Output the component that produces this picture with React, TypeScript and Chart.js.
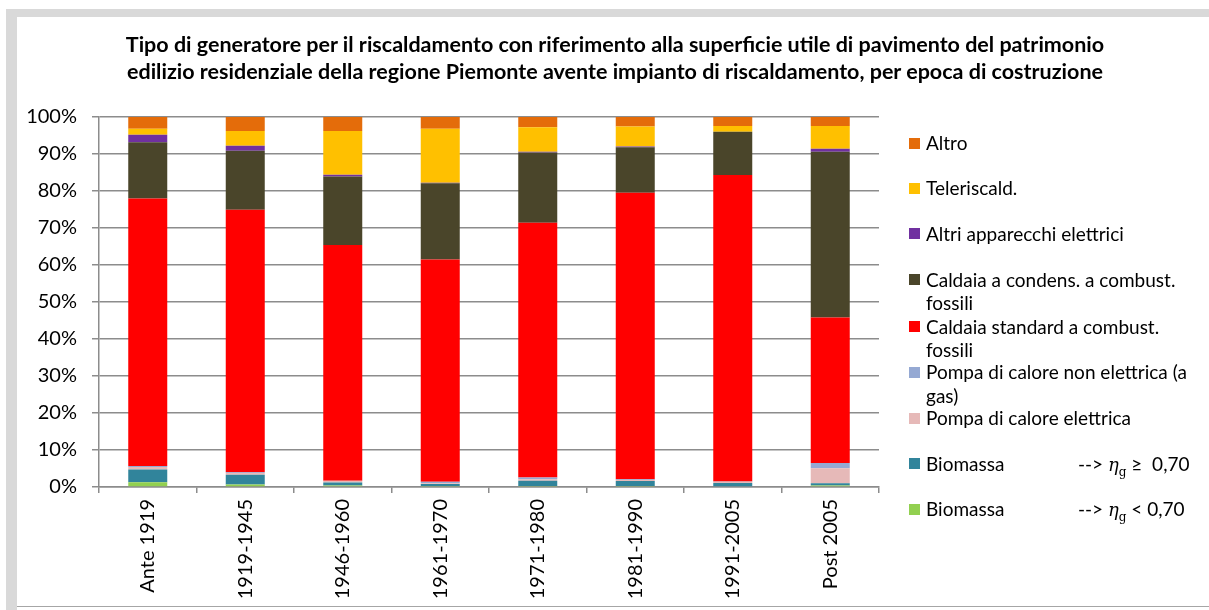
import React, { useEffect, useRef } from "react";
import { Chart, registerables } from "chart.js";

Chart.register(...registerables);

const categories = ["Ante 1919", "1919-1945", "1946-1960", "1961-1970", "1971-1980", "1981-1990", "1991-2005", "Post 2005"];

// values in %, stacked from the bottom up
const biomassaLow = [1.3, 0.7, 0.4, 0.3, 0.3, 0.3, 0.2, 0.4];
const biomassaHigh = [3.4, 2.6, 0.8, 0.5, 1.4, 1.3, 0.9, 0.6];
const pompaElettrica = [0.7, 0.5, 0.5, 0.2, 0.4, 0.3, 0.3, 4.1];
const pompaGas = [0.3, 0.2, 0.0, 0.4, 0.5, 0.2, 0.1, 1.4];
const caldaiaStandard = [72.3, 70.9, 63.7, 60.1, 68.8, 77.4, 82.8, 39.3];
const caldaiaCondens = [15.2, 16.0, 18.5, 20.6, 19.0, 12.3, 11.7, 44.8];
const altriElettrici = [2.0, 1.3, 0.5, 0.1, 0.2, 0.2, 0.0, 0.8];
const teleriscald = [1.6, 4.0, 11.8, 14.6, 6.6, 5.4, 1.6, 6.2];
const altro = [3.2, 3.8, 3.8, 3.2, 2.8, 2.6, 2.4, 2.4];

const yTickLabels = ["0%", "10%", "20%", "30%", "40%", "50%", "60%", "70%", "80%", "90%", "100%"];

const seriesNames = [
  "Biomassa < 0,70",
  "Biomassa ≥ 0,70",
  "Pompa di calore elettrica",
  "Pompa di calore non elettrica (a gas)",
  "Caldaia standard a combust. fossili",
  "Caldaia a condens. a combust. fossili",
  "Altri apparecchi elettrici",
  "Teleriscald.",
  "Altro",
];
const seriesValues = [biomassaLow, biomassaHigh, pompaElettrica, pompaGas, caldaiaStandard, caldaiaCondens, altriElettrici, teleriscald, altro];
const seriesColors = ["#92D050", "#31849B", "#E6B9B8", "#95A9D3", "#FF0000", "#4A452A", "#7030A0", "#FFC000", "#E46C0A"];

const FONT = "Lato, 'Open Sans', sans-serif";

type LegendItem = { lines: string[]; color: string; top: number; eta?: string };
const legendItems: LegendItem[] = [
  { lines: ["Altro"], color: "#E46C0A", top: 143 },
  { lines: ["Teleriscald."], color: "#FFC000", top: 188 },
  { lines: ["Altri apparecchi elettrici"], color: "#7030A0", top: 233.5 },
  { lines: ["Caldaia a condens. a combust.", "fossili"], color: "#4A452A", top: 279.5 },
  { lines: ["Caldaia standard a combust.", "fossili"], color: "#FF0000", top: 326.5 },
  { lines: ["Pompa di calore non elettrica (a", "gas)"], color: "#95A9D3", top: 372 },
  { lines: ["Pompa di calore elettrica"], color: "#E6B9B8", top: 418 },
  { lines: ["Biomassa"], color: "#31849B", top: 463.5, eta: "≥  0,70" },
  { lines: ["Biomassa"], color: "#92D050", top: 509, eta: "< 0,70" },
];

export default function App() {
  const canvasRef = useRef<HTMLCanvasElement | null>(null);

  useEffect(() => {
    if (!canvasRef.current) return;
    const chart = new Chart(canvasRef.current, {
      type: "bar",
      data: {
        labels: categories,
        datasets: seriesValues.map((vals, i) => ({
          label: seriesNames[i],
          data: vals,
          backgroundColor: seriesColors[i],
          borderWidth: 0,
          categoryPercentage: 1,
          barPercentage: 0.4,
        })),
      },
      options: {
        responsive: false,
        animation: false,
        devicePixelRatio: 1,
        layout: { padding: { left: 0, top: 117, right: 330, bottom: 0 } },
        plugins: { legend: { display: false }, title: { display: false }, tooltip: { enabled: false } },
        scales: {
          x: {
            stacked: true,
            grid: { drawOnChartArea: false, drawTicks: true, tickLength: 6, color: "#8c8c8c", lineWidth: 1.5 },
            border: { color: "#8c8c8c", width: 1.5 },
            ticks: {
              minRotation: 90,
              maxRotation: 90,
              padding: 6,
              color: "#000",
              font: { family: FONT, size: 20 },
            },
            afterFit: (s: any) => {
              s.height = 123;
            },
          },
          y: {
            stacked: true,
            min: 0,
            max: 100,
            ticks: {
              stepSize: 10,
              padding: 15,
              color: "#000",
              font: { family: FONT, size: 20 },
              callback: (_v: any, i: number) => yTickLabels[i],
            },
            grid: { color: "#8c8c8c", lineWidth: 1.5, tickLength: 7 },
            border: { color: "#8c8c8c", width: 1.5 },
            afterFit: (s: any) => {
              s.width = 99;
            },
          },
        },
      },
    });
    return () => chart.destroy();
  }, []);

  return (
    <div style={{ position: "fixed", left: 0, top: 0, width: 1209, height: 610, background: "#fff", overflow: "hidden", fontFamily: FONT }}>
      <div style={{ position: "absolute", left: 6, top: 9, width: 1203, height: 601, background: "#d9d9d9" }} />
      <div style={{ position: "absolute", left: 17, top: 17, width: 1192, height: 589, background: "#fff" }} />
      <div style={{ position: "absolute", left: 17, top: 606, width: 1192, height: 1, background: "#a6a6a6" }} />
      <div style={{ position: "absolute", left: 17, top: 607, width: 1192, height: 3, background: "#fff" }} />
      <canvas ref={canvasRef} width={1209} height={610} style={{ position: "absolute", left: 0, top: 0, width: 1209, height: 610 }} />
      <div
        style={{
          position: "absolute",
          left: 17,
          top: 31,
          width: 1196,
          textAlign: "center",
          fontWeight: 700,
          fontSize: 21.5,
          lineHeight: "27px",
          color: "#000",
          whiteSpace: "nowrap",
        }}
      >
        Tipo di generatore per il riscaldamento con riferimento alla superficie utile di pavimento del patrimonio
        <br />
        edilizio residenziale della regione Piemonte avente impianto di riscaldamento, per epoca di costruzione
      </div>
      {legendItems.map((it, k) => (
        <div key={k}>
          <div style={{ position: "absolute", left: 909, top: it.top - 5.5, width: 11, height: 11, background: it.color }} />
          {it.lines.map((ln, j) => (
            <div
              key={j}
              style={{
                position: "absolute",
                left: 926,
                top: it.top - 12 + j * 23.5,
                height: 24,
                lineHeight: "24px",
                fontSize: 19,
                color: "#000",
                whiteSpace: "pre",
              }}
            >
              {ln}
            </div>
          ))}
          {it.eta && (
            <div
              style={{
                position: "absolute",
                left: 1078,
                top: it.top - 12,
                height: 24,
                lineHeight: "24px",
                fontSize: 19,
                color: "#000",
                whiteSpace: "pre",
              }}
            >
              {"--> "}
              <span style={{ fontFamily: "'DejaVu Serif', serif", fontStyle: "italic", fontSize: 18 }}>η</span>
              <span style={{ fontFamily: "'DejaVu Serif', serif", fontSize: 12, position: "relative", top: 5 }}>g</span>
              {" " + it.eta}
            </div>
          )}
        </div>
      ))}
    </div>
  );
}
